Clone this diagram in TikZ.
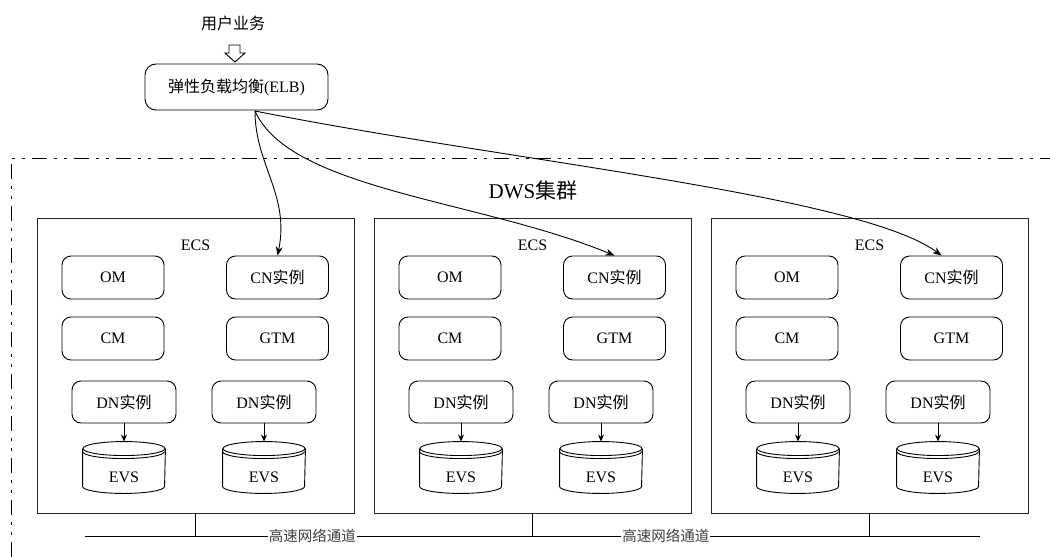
\documentclass[tikz,border=0pt]{standalone}
\usepackage{fontspec}
\setmainfont{Liberation Serif}
\newfontfamily\cjk{Noto Sans CJK SC}
\usetikzlibrary{arrows.meta}

\begin{document}
\begin{tikzpicture}[x=1pt, y=-1pt, line width=0.9pt, font=\fontsize{16}{19}\selectfont]
    \tikzstyle{ecs} = [draw=black!85, minimum width=317pt, minimum height=295pt, inner sep=0pt]
    \tikzstyle{role} = [draw, rounded corners=9pt, minimum width=102pt, minimum height=43pt, inner sep=0pt]
    \tikzstyle{dn} = [role, minimum width=104pt, minimum height=42pt]
    \tikzstyle{disk} = [minimum width=82pt, minimum height=51pt, inner sep=0pt]
    \tikzstyle{transition} = [-{Stealth[length=9pt,width=7pt]}, line width=0.9pt]
    \tikzstyle{bus} = [fill=white, inner sep=1pt, text=black!75, font=\cjk\fontsize{14.5}{16}\selectfont]

    \useasboundingbox (0,0) rectangle (1050,557);

    % user traffic and load balancer
    \node (user) at (233,23) {\cjk 用户业务};
    \draw (229,45) -- (240,45) -- (240,53) -- (245,53) -- (235,62) -- (225,53) -- (229,53) -- cycle;
    \node[role, minimum width=183pt, minimum height=46pt, rounded corners=11pt] (elb) at (236.5,87) {{\cjk 弹性负载均衡}(ELB)};
    \coordinate (fork) at (255,111);

    % cluster outline
    \draw[dash pattern=on 15pt off 7pt on 3pt off 7pt on 3pt off 7pt] (11,557) -- (11,158) -- (1050,158);
    \node[font=\fontsize{21}{24}\selectfont] (dws) at (533,190) {DWS{\cjk 集群}};

    \coordinate (busL) at (85,536);
    \coordinate (busR) at (980,536);

    \foreach \s/\dx in {A/0, B/337, C/674} {
        \node[ecs] (ecs\s) at (195.5+\dx,365.5) {};
        \node (ecs\s label) at (195.5+\dx,245) {ECS};
        \node[role] (om\s) at (113+\dx,277.5) {OM};
        \node[role] (cn\s) at (277.5+\dx,277.5) {CN{\cjk 实例}};
        \node[role] (cm\s) at (113+\dx,338.5) {CM};
        \node[role] (gtm\s) at (277.5+\dx,338.5) {GTM};
        \node[dn] (dn\s1) at (124+\dx,402) {DN{\cjk 实例}};
        \node[dn] (dn\s2) at (264+\dx,402) {DN{\cjk 实例}};
        \foreach \k in {1,2} {
            \node[disk, label={[yshift=-10pt]center:EVS}] (evs\s\k) at (dn\s\k |- 0,467.5) {};
            \draw ([yshift=-7pt]evs\s\k.north west) -- ([yshift=7pt]evs\s\k.south west)
                arc[start angle=180, end angle=360, x radius=41pt, y radius=7pt]
                -- ([yshift=-7pt]evs\s\k.north east);
            \draw ([yshift=-7pt]evs\s\k.north) ellipse [x radius=41pt, y radius=7pt];
            \draw ([yshift=-10pt]evs\s\k.north west) arc[start angle=180, end angle=360, x radius=41pt, y radius=7pt];
            \draw[transition, -{Stealth[length=7pt,width=6pt]}] (dn\s\k) -- (evs\s\k);
        }
        \draw (ecs\s.south) -- (ecs\s.south |- busL);
    }

    % high-speed network
    \draw (busL) -- node[bus, pos=0.254] (netA) {高速网络通道} node[bus, pos=0.649] (netB) {高速网络通道} (busR);

    % traffic from ELB to the CN instances
    \draw[transition] (fork) .. controls (255,165) and (290,195) .. (cnA.north);
    \draw[transition] (fork) .. controls (290,190) and (480,200) .. (cnB.north);
    \draw[transition] (fork) .. controls (500,160) and (860,195) .. ([xshift=-10pt]cnC.north);
\end{tikzpicture}
\end{document}
